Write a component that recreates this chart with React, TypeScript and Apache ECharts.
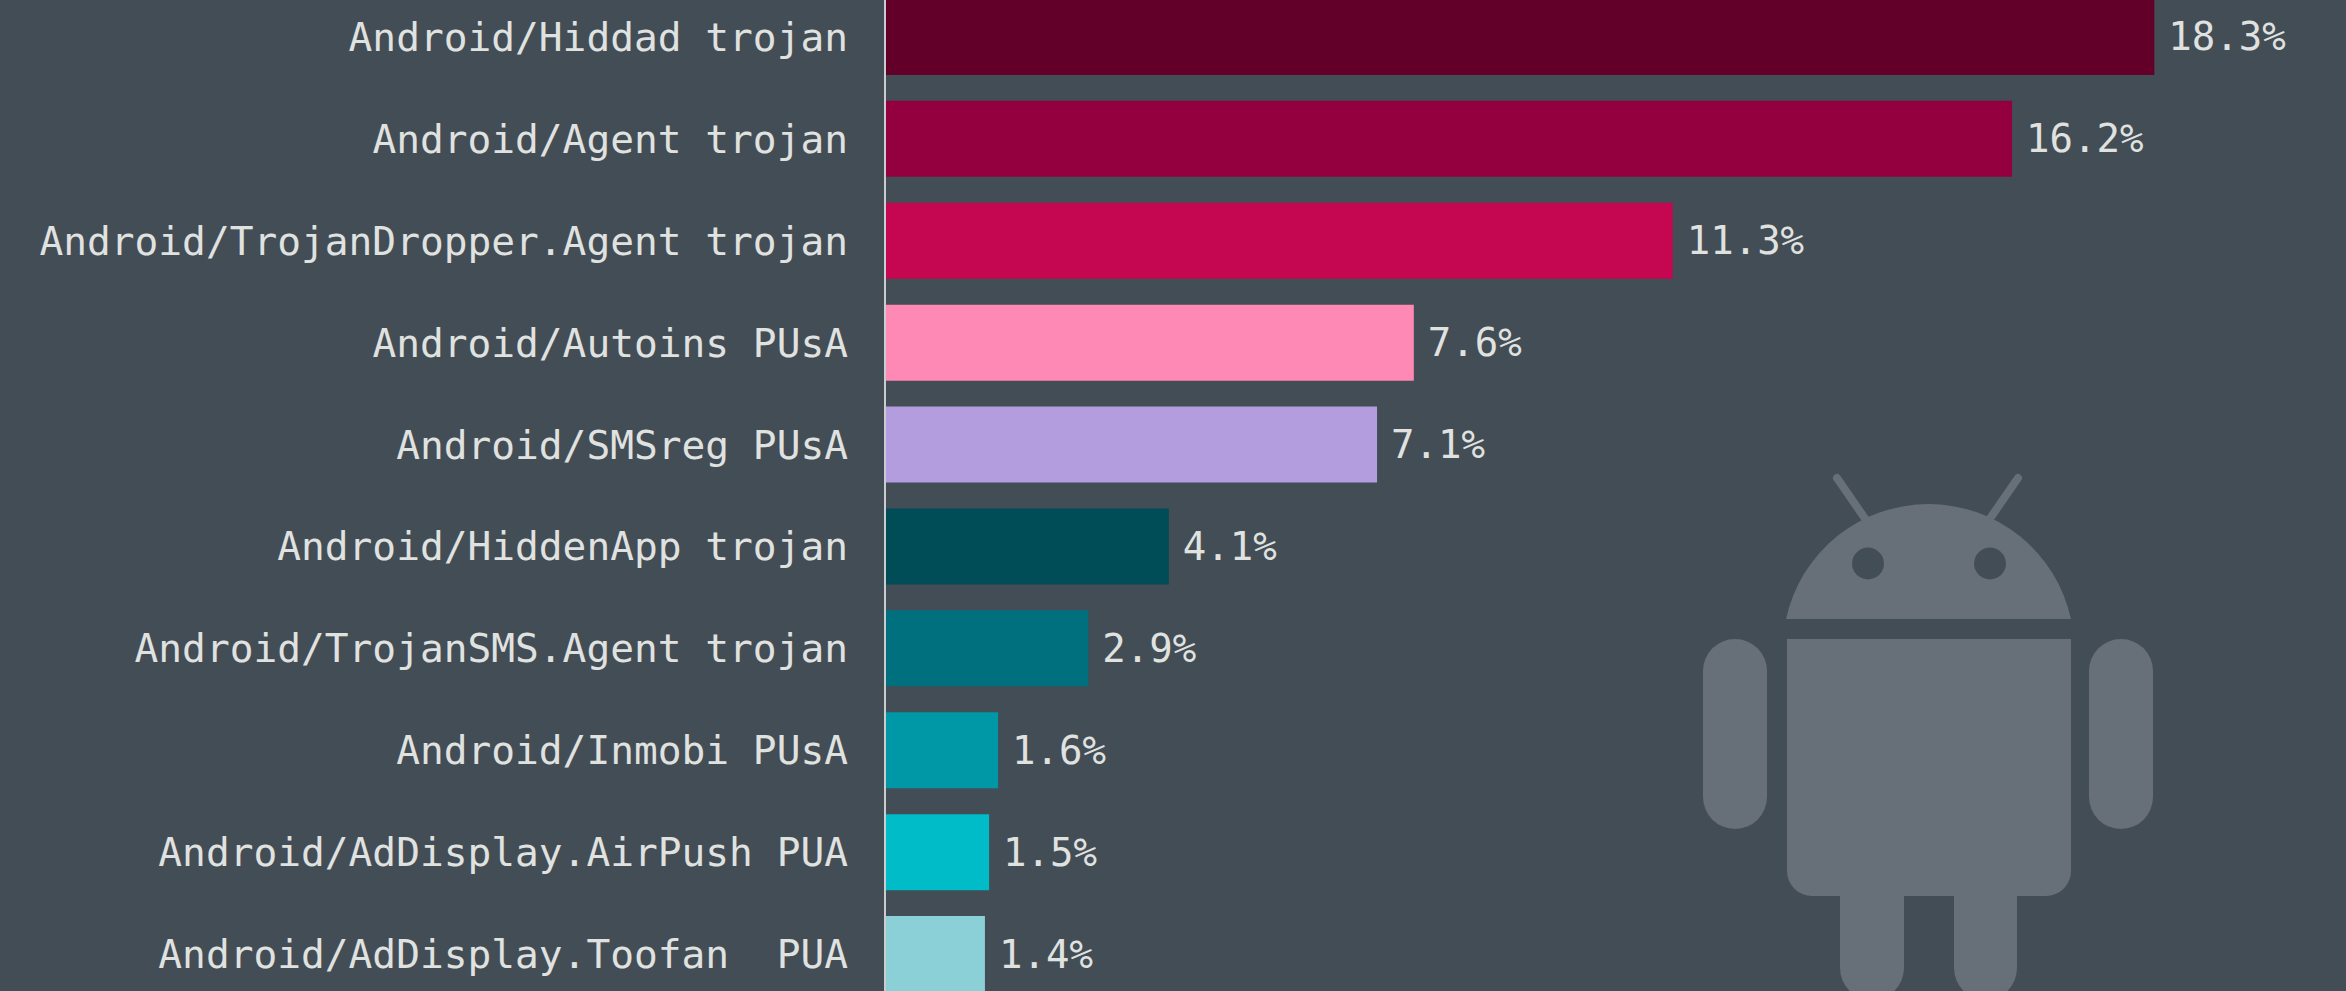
import React, { useEffect, useRef } from "react";
import * as echarts from "echarts";

const categories = [
  "Android/Hiddad trojan",
  "Android/Agent trojan",
  "Android/TrojanDropper.Agent trojan",
  "Android/Autoins PUsA",
  "Android/SMSreg PUsA",
  "Android/HiddenApp trojan",
  "Android/TrojanSMS.Agent trojan",
  "Android/Inmobi PUsA",
  "Android/AdDisplay.AirPush PUA",
  "Android/AdDisplay.Toofan  PUA",
];
const values = [18.29, 16.24, 11.35, 7.62, 7.09, 4.09, 2.93, 1.63, 1.5, 1.44];
const barColors = [
  "#620029", "#94003f", "#c50751", "#ff89b5", "#b39ddf",
  "#004c57", "#00707f", "#0097a7", "#00bcc9", "#8bd0d6",
];

const BG = "#434d56";
const LOGO = "#676f78";
const TEXT = "#e0e2e0";
const FONT = '"DejaVu Sans Mono", monospace';

const logoPath =
  "M1786 619 A145.8 145.8 0 0 1 2071 619 Z " +
  "M1787 639 H2071 V871 a25 25 0 0 1 -25 25 H2017 V968 a31.5 32 0 0 1 -63 0 V896 H1904 V968 a32 32 0 0 1 -64 0 V896 H1812 a25 25 0 0 1 -25 -25 Z " +
  "M1703 671 a32 32 0 0 1 64 0 V797 a32 32 0 0 1 -64 0 Z " +
  "M2089 671 a32 32 0 0 1 64 0 V797 a32 32 0 0 1 -64 0 Z";

echarts.graphic.registerShape("androidLogo", echarts.graphic.extendPath(logoPath, {}));

export default function App() {
  const ref = useRef<HTMLDivElement>(null);

  useEffect(() => {
    document.body.style.margin = "0";
    document.body.style.background = BG;
    const chart = echarts.init(ref.current!, null, { renderer: "svg" });
    chart.setOption({
      animation: false,
      backgroundColor: BG,
      textStyle: { fontFamily: FONT },
      grid: { left: 885, top: -14, width: 1388, height: 1019, containLabel: false, outerBoundsMode: "none" },
      xAxis: { type: "value", min: 0, max: 20, show: false },
      yAxis: {
        type: "category",
        inverse: true,
        offset: 1,
        z: 5,
        data: categories,
        axisTick: { show: false },
        axisLine: { show: true, lineStyle: { color: "#c9cdd0", width: 2 } },
        axisLabel: { interval: 0, margin: 36, color: TEXT, fontSize: 39.5, fontFamily: FONT },
      },
      series: [
        {
          type: "bar",
          barWidth: 76,
          z: 3,
          data: values.map((v, i) => ({ value: v, itemStyle: { color: barColors[i] } })),
          label: {
            show: true,
            position: "right",
            distance: 14,
            color: TEXT,
            fontSize: 39,
            fontFamily: FONT,
            formatter: (p: any) => p.value.toFixed(1) + "%",
          },
        },
      ],
      graphic: [
        { type: "androidLogo", x: 0, y: 0, silent: true, z: 1, style: { fill: LOGO } },
        { type: "circle", silent: true, z: 2, shape: { cx: 1868, cy: 563.5, r: 16 }, style: { fill: BG } },
        { type: "circle", silent: true, z: 2, shape: { cx: 1990, cy: 563.5, r: 16 }, style: { fill: BG } },
        { type: "line", silent: true, z: 1, shape: { x1: 1837, y1: 478, x2: 1866, y2: 520 }, style: { stroke: LOGO, lineWidth: 8, lineCap: "round" } },
        { type: "line", silent: true, z: 1, shape: { x1: 2018, y1: 478, x2: 1989, y2: 520 }, style: { stroke: LOGO, lineWidth: 8, lineCap: "round" } },
      ],
    });
    return () => chart.dispose();
  }, []);

  return <div ref={ref} style={{ width: 2346, height: 991 }} />;
}
